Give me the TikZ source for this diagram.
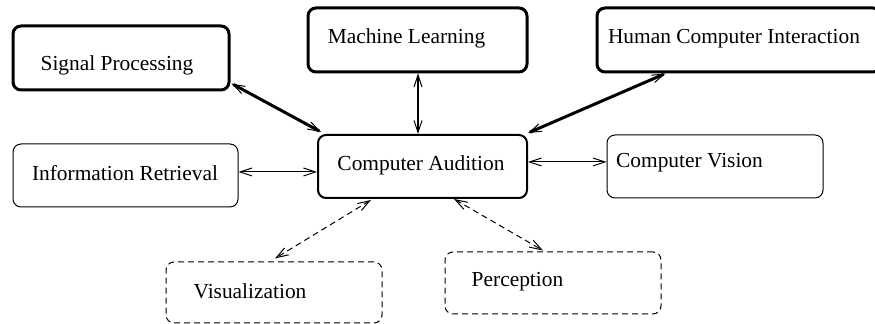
\documentclass[tikz,border=0pt]{standalone}
\usepackage{fontspec}
\setmainfont{Liberation Serif}
\usetikzlibrary{arrows.meta,calc}
\begin{document}
\begin{tikzpicture}[x=0.5pt,y=-0.5pt,
  every node/.style={font=\fontsize{10.7pt}{12pt}\selectfont},
  box/.style={draw, rounded corners=4pt, inner sep=0pt, minimum height=32pt},
  thickbox/.style={box, line width=1.5pt},
  midbox/.style={box, line width=1pt},
  thinbox/.style={box, line width=0.5pt},
  dashbox/.style={box, line width=0.5pt, dash pattern=on 3pt off 2pt},
  lbl/.style={inner sep=0pt},
  tip/.style={},
  link/.style={{Straight Barb[length=6pt,width=4pt,line width=0.5pt]}-{Straight Barb[length=6pt,width=4pt,line width=0.5pt]}},
  thicklink/.style={link, line width=1.5pt},
  midlink/.style={link, line width=1pt},
  thinlink/.style={link, line width=0.5pt},
  dashlink/.style={link, line width=0.5pt, dash pattern=on 3pt off 2pt}
]
\useasboundingbox (0,0) rectangle (875,324);
\clip (0,0) rectangle (875,324);
% boxes
\node[thickbox, minimum width=108pt] (sp) at (121,58) {};
\node[lbl] (sptext) at (117,65) {Signal Processing};
\node[thickbox, minimum width=109.5pt] (ml) at (417.5,40) {};
\node[lbl] (mltext) at (406.5,38) {Machine Learning};
\node[thickbox, minimum width=142pt] (hci) at (739,40) {};
\node[lbl] (hcitext) at (734,39) {Human Computer Interaction};
\node[midbox, minimum width=104.5pt, minimum height=31.5pt] (ca) at (422.5,166.5) {};
\node[lbl] (catext) at (421,165) {Computer Audition};
\node[thinbox, minimum width=112.5pt, minimum height=31.5pt] (ir) at (125.5,175.5) {};
\node[lbl] (irtext) at (125,173) {Information Retrieval};
\node[thinbox, minimum width=108pt, minimum height=31.5pt] (cv) at (715,166.5) {};
\node[lbl] (cvtext) at (689.5,163) {Computer Vision};
\node[dashbox, minimum width=108pt, minimum height=30.5pt] (vis) at (274,292.5) {};
\node[lbl] (vistext) at (250,291) {Visualization};
\node[dashbox, minimum width=108pt, minimum height=31pt] (perc) at (553,283) {};
\node[lbl] (perctext) at (517.5,282) {Perception};
% connector end points
\coordinate (spA) at ($(sp.south east)+(1,-8)$);
\coordinate (caSP) at ($(ca.north west)+(4,-2)$);
\coordinate (mlA) at ($(ml.south)+(0.5,0)$);
\coordinate (caML) at (mlA |- ca.north);
\coordinate (hciA) at ($(hci.south west)+(70,0)$);
\coordinate (caHCI) at ($(ca.north east)+(0,-1)$);
\coordinate (irA) at ($(ir.east)+(0,-3.5)$);
\coordinate (caIR) at ($(ca.west)+(0,5.5)$);
\coordinate (caCV) at ($(ca.east)+(0,-4.5)$);
\coordinate (cvA) at ($(cv.west)+(0,-4.5)$);
\coordinate (caVis) at ($(ca.south west)+(54,1)$);
\coordinate (visA) at ($(vis.north)+(1,-3)$);
\coordinate (caPerc) at ($(ca.south west)+(137,0)$);
\coordinate (percA) at ($(perc.north)+(-10,-1)$);
% connectors
\draw[thicklink] (spA) -- (caSP);
\draw[midlink] (mlA) -- (caML);
\draw[thicklink] (hciA) -- (caHCI);
\draw[thinlink] (irA) -- (caIR);
\draw[thinlink] (caCV) -- (cvA);
\draw[dashlink] (caVis) -- (visA);
\draw[dashlink] (caPerc) -- (percA);
\end{tikzpicture}
\end{document}
